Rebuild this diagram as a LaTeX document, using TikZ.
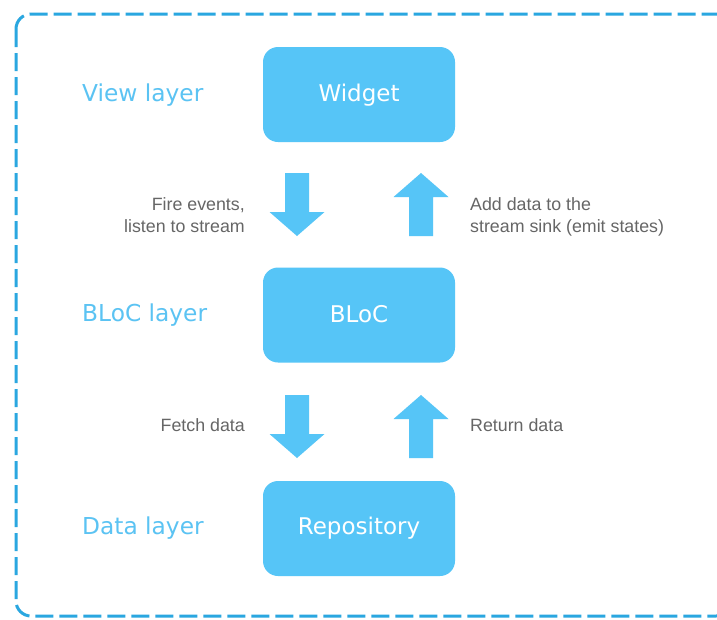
\documentclass[tikz,border=0pt]{standalone}
\usepackage{fontspec}
\setmainfont{DejaVu Sans}
\newfontfamily\labelfont{Liberation Sans}
\definecolor{boxblue}{HTML}{56C5F7}
\definecolor{layerblue}{HTML}{5BC3F3}
\definecolor{frameblue}{HTML}{2AA7E0}
\definecolor{notegray}{HTML}{666666}
\tikzset{
  x=1pt, y=-1pt,
  layerbox/.style={fill=boxblue, rounded corners=15pt, minimum width=192pt, minimum height=95pt, inner sep=0pt},
  boxtext/.style={text=white, font=\fontsize{23}{27}\selectfont, anchor=base, inner sep=0pt},
  layerlabel/.style={text=layerblue, font=\fontsize{23.3}{27}\selectfont, anchor=base west, inner sep=0pt},
  notelabel/.style={text=notegray, font=\labelfont\fontsize{17.8}{22}\selectfont, inner sep=0pt},
  blockarrow/.style={fill=boxblue},
  pics/downarrow/.style={code={
    \fill[blockarrow] (-12,0) -- (12,0) -- (12,39) -- (27.5,39) -- (0,63) -- (-27.5,39) -- (-12,39) -- cycle;
  }},
  pics/uparrow/.style={code={
    \fill[blockarrow] (0,0) -- (27.5,24) -- (12,24) -- (12,63) -- (-12,63) -- (-12,24) -- (-27.5,24) -- cycle;
  }}
}
\begin{document}
\begin{tikzpicture}
\useasboundingbox (0,0) rectangle (717,619);
\fill[white] (0,0) rectangle (717,619);
\begin{scope}
\clip (0,0) rectangle (717,619);
\draw[frameblue, line width=3pt, dash pattern=on 18pt off 6pt, rounded corners=15pt] (16,14) rectangle (731,616);
\end{scope}

% boxes
\node[layerbox] (widget) at (359,94.5) {};
\node[layerbox] (bloc) at (359,315) {};
\node[layerbox] (repo) at (359,528.5) {};
\node[boxtext] (widgettext) at (359,101) {Widget};
\node[boxtext] (bloctext) at (359,322) {BLoC};
\node[boxtext] (repotext) at (359,534) {Repository};

% layer labels
\node[layerlabel] (viewlayer) at (82,101) {View layer};
\node[layerlabel] (bloclayer) at (82,321) {BLoC layer};
\node[layerlabel] (datalayer) at (82,534) {Data layer};

% block arrows
\pic at (297,173) {downarrow};
\pic at (421,173) {uparrow};
\pic at (297,395) {downarrow};
\pic at (421,395) {uparrow};

% notes
\node[notelabel, align=right, anchor=east] (fire) at (245,215) {Fire events,\\listen to stream};
\node[notelabel, align=left, anchor=west] (adddata) at (470,216.5) {Add data to the\\stream sink (emit states)};
\node[notelabel, anchor=base east] (fetch) at (245,431) {Fetch data};
\node[notelabel, anchor=base west] (return) at (470,431) {Return data};
\end{tikzpicture}
\end{document}
